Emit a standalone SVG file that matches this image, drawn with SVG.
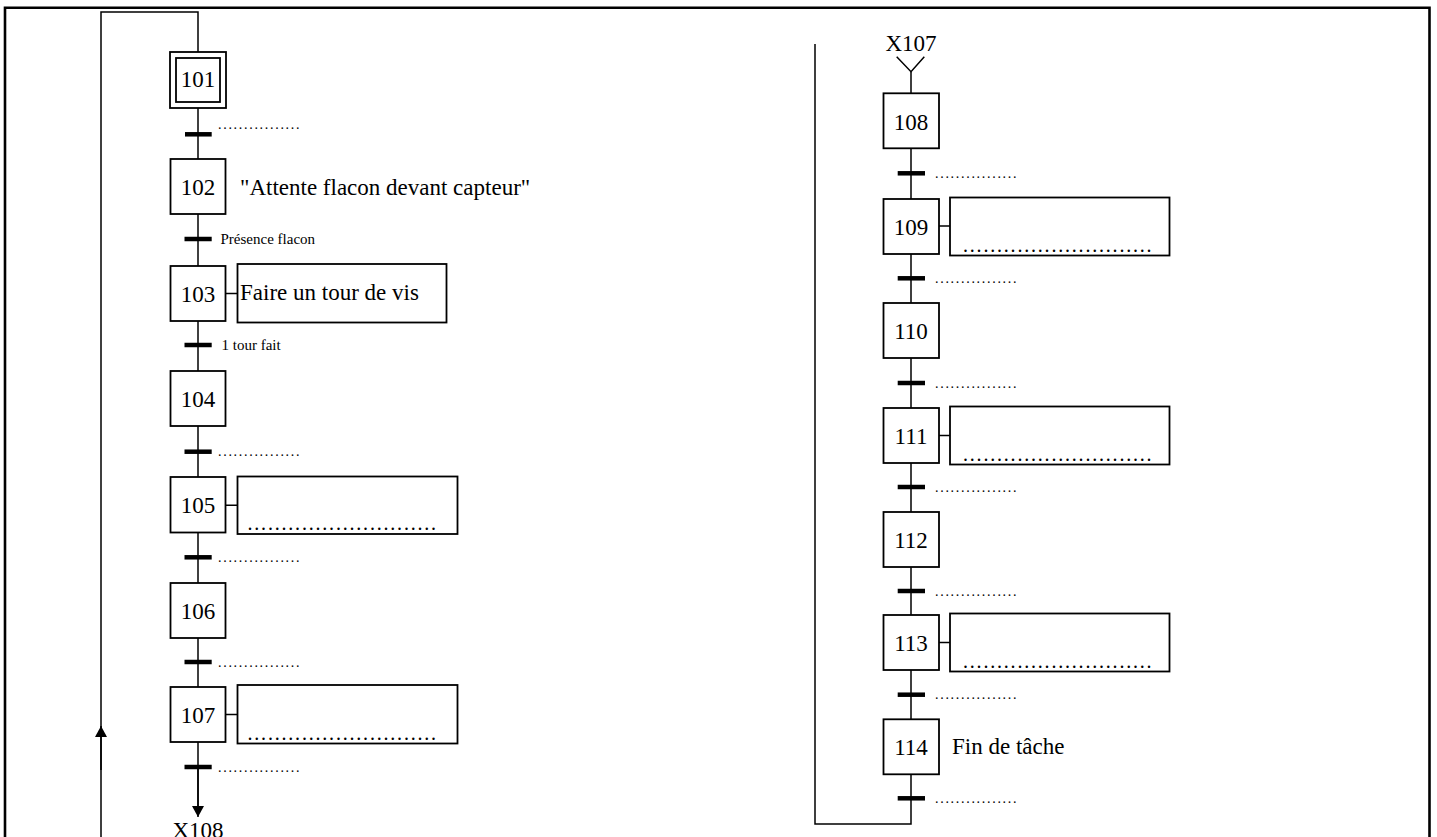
<svg xmlns="http://www.w3.org/2000/svg" width="1437" height="837" viewBox="0 0 1437 837">
<defs>
<style>
.frame{fill:none;stroke:#000;stroke-width:2.6}
.wire{fill:none;stroke:#000;stroke-width:1.5}
.bar{stroke:#000;stroke-width:4.5}
.box{fill:#fff;stroke:#000;stroke-width:1.8}
.t{font-family:"Liberation Serif","Times New Roman",serif;fill:#000}
.big{font-size:23px}
.num{font-size:23px;text-anchor:middle}
.small{font-size:15px}
.dots{font-size:14px;letter-spacing:1.7px}
.adots{font-size:20px;letter-spacing:1.8px}
</style>
<marker id="arr" markerUnits="userSpaceOnUse" markerWidth="12" markerHeight="12" refX="11" refY="6" orient="auto">
<path d="M0,0 L11,6 L0,12 z" fill="#000"/>
</marker>
</defs>
<rect width="1437" height="837" fill="#fff"/>
<path class="frame" d="M5,845 V7.8 H1429.5 V845"/>

<g id="connectors">
<!-- left column -->
<path class="wire" d="M101,845 V12 H198 V52"/>
<path class="wire" d="M101,770 V726" marker-end="url(#arr)"/>
<path class="wire" d="M198,108 V808"/>
<path class="wire" d="M198,767 V817" marker-end="url(#arr)"/>
<!-- right column -->
<path class="wire" d="M815,44 V824 H911 V72"/>
<path class="wire" d="M896.7,56.7 L911,71.7 L924.3,56.7"/>
<!-- action links -->
<path class="wire" d="M225.5,293.5 H237.5 M225.5,505.3 H237.5 M225.5,714.5 H237.5 M939,226 H950 M939,435.5 H950 M939,642.5 H950"/>
</g>

<g id="transitions">
<g id="t101"><line class="bar" x1="185" y1="134.3" x2="211.7" y2="134.3"/><text class="t dots" x="218" y="128.5">................</text></g>
<g id="t102"><line class="bar" x1="184.5" y1="239" x2="211.7" y2="239"/><text class="t small" x="220.5" y="243.5">Présence flacon</text></g>
<g id="t103"><line class="bar" x1="184.5" y1="345" x2="211.7" y2="345"/><text class="t small" x="221.5" y="349.5">1 tour fait</text></g>
<g id="t104"><line class="bar" x1="184.5" y1="451.7" x2="211.7" y2="451.7"/><text class="t dots" x="218" y="456">................</text></g>
<g id="t105"><line class="bar" x1="184.5" y1="557.3" x2="211.7" y2="557.3"/><text class="t dots" x="218" y="562">................</text></g>
<g id="t106"><line class="bar" x1="184.5" y1="662" x2="211.7" y2="662"/><text class="t dots" x="218" y="666.5">................</text></g>
<g id="t107"><line class="bar" x1="184.5" y1="767" x2="211.7" y2="767"/><text class="t dots" x="218" y="771.5">................</text></g>
<g id="t108"><line class="bar" x1="897.7" y1="173.3" x2="925" y2="173.3"/><text class="t dots" x="935" y="177.5">................</text></g>
<g id="t109"><line class="bar" x1="897.7" y1="278.3" x2="925" y2="278.3"/><text class="t dots" x="935" y="282.5">................</text></g>
<g id="t110"><line class="bar" x1="897.7" y1="383" x2="925" y2="383"/><text class="t dots" x="935" y="387.5">................</text></g>
<g id="t111"><line class="bar" x1="897.7" y1="487" x2="925" y2="487"/><text class="t dots" x="935" y="491.5">................</text></g>
<g id="t112"><line class="bar" x1="897.7" y1="591" x2="925" y2="591"/><text class="t dots" x="935" y="595.5">................</text></g>
<g id="t113"><line class="bar" x1="897.7" y1="694.7" x2="925" y2="694.7"/><text class="t dots" x="935" y="699">................</text></g>
<g id="t114"><line class="bar" x1="897.7" y1="798.3" x2="925" y2="798.3"/><text class="t dots" x="935" y="802.7">................</text></g>
</g>

<g id="s101"><rect class="box" x="170" y="52" width="56" height="56"/><rect class="box" x="176" y="58" width="44" height="44"/><text class="t num" x="198" y="87">101</text></g>
<g id="s102"><rect class="box" x="170.5" y="159" width="55" height="55"/><text class="t num" x="198" y="195">102</text><text class="t big" x="240" y="195">"Attente flacon devant capteur"</text></g>
<g id="s103"><rect class="box" x="170.5" y="266" width="55" height="55"/><text class="t num" x="198" y="302">103</text><rect class="box" x="237.5" y="264" width="209" height="58.5"/><text class="t big" x="240" y="299.5">Faire un tour de vis</text></g>
<g id="s104"><rect class="box" x="170.5" y="371" width="55" height="55"/><text class="t num" x="198" y="407">104</text></g>
<g id="s105"><rect class="box" x="170.5" y="477" width="55" height="55.5"/><text class="t num" x="198" y="513">105</text><rect class="box" x="237.5" y="476.5" width="220" height="57.5"/><text class="t adots" x="247.5" y="530">............................</text></g>
<g id="s106"><rect class="box" x="170.5" y="583" width="55" height="55"/><text class="t num" x="198" y="619">106</text></g>
<g id="s107"><rect class="box" x="170.5" y="687" width="55" height="55"/><text class="t num" x="198" y="723">107</text><rect class="box" x="237.5" y="685" width="220" height="58.5"/><text class="t adots" x="247.5" y="739.5">............................</text></g>
<g id="x108"><text class="t num" x="198" y="838">X108</text></g>

<g id="x107"><text class="t num" x="911" y="51">X107</text></g>
<g id="s108"><rect class="box" x="883.5" y="93.3" width="55.5" height="55"/><text class="t num" x="911" y="129.5">108</text></g>
<g id="s109"><rect class="box" x="883.5" y="199" width="55.5" height="55"/><text class="t num" x="911" y="235">109</text><rect class="box" x="950" y="197.5" width="219.5" height="58"/><text class="t adots" x="963" y="251.5">............................</text></g>
<g id="s110"><rect class="box" x="883.5" y="303" width="55.5" height="55"/><text class="t num" x="911" y="339">110</text></g>
<g id="s111"><rect class="box" x="883.5" y="408" width="55.5" height="55"/><text class="t num" x="911" y="444">111</text><rect class="box" x="950" y="406.5" width="219.5" height="58"/><text class="t adots" x="963" y="460.5">............................</text></g>
<g id="s112"><rect class="box" x="883.5" y="512" width="55.5" height="55"/><text class="t num" x="911" y="548">112</text></g>
<g id="s113"><rect class="box" x="883.5" y="615" width="55.5" height="55"/><text class="t num" x="911" y="651">113</text><rect class="box" x="950" y="613.5" width="219.5" height="58"/><text class="t adots" x="963" y="667.5">............................</text></g>
<g id="s114"><rect class="box" x="883.5" y="719.3" width="55.5" height="55"/><text class="t num" x="911" y="755">114</text><text class="t big" x="952" y="754">Fin de tâche</text></g>
</svg>
